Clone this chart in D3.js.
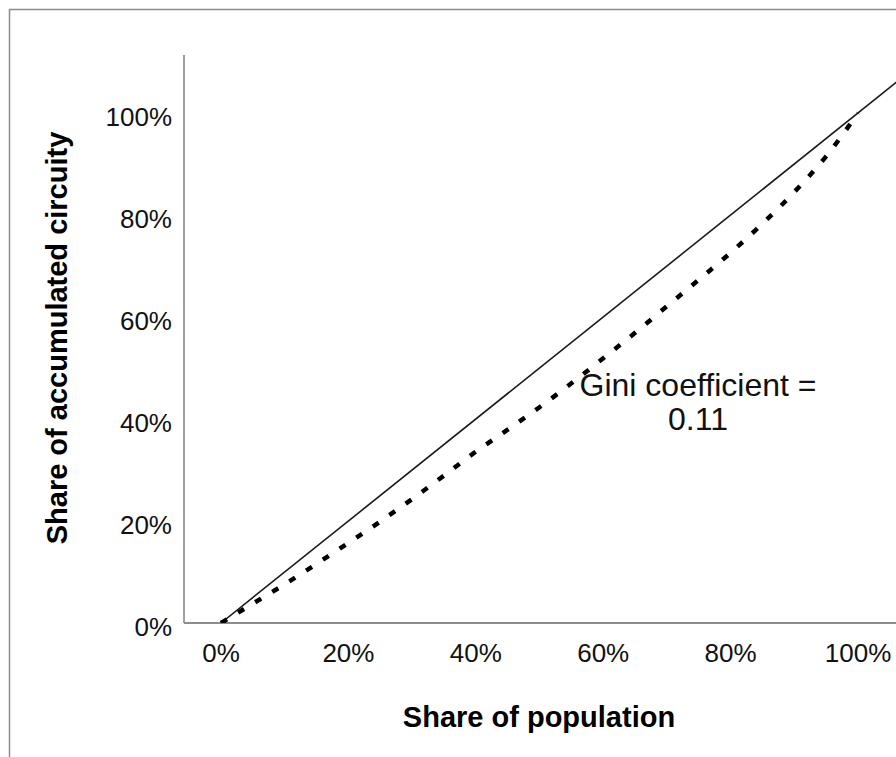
<!DOCTYPE html>
<html>
<head>
<meta charset="utf-8">
<script src="https://cdn.jsdelivr.net/npm/d3@7"></script>
<style>
  html, body { margin: 0; padding: 0; background: #fff; }
  svg { display: block; }
</style>
</head>
<body>
<svg id="chart" width="896" height="757"></svg>
<script>
// ---- data ----
const xTicks = [0, 0.2, 0.4, 0.6, 0.8, 1.0];
const yTicks = [0, 0.2, 0.4, 0.6, 0.8, 1.0];
const populationShare = [0, 0.05, 0.10, 0.15, 0.20, 0.25, 0.30, 0.35, 0.40, 0.45, 0.50,
                         0.55, 0.60, 0.65, 0.70, 0.75, 0.80, 0.85, 0.90, 0.95, 1.00];
const circuityShare   = [0, 0.038, 0.076, 0.116, 0.157, 0.199, 0.243, 0.289, 0.336, 0.379, 0.423,
                         0.470, 0.519, 0.569, 0.621, 0.673, 0.726, 0.783, 0.845, 0.915, 1.00];
const equalityX = [0, 1.12];
const equalityY = [0, 1.12];
const xTitle = "Share of population";
const yTitle = "Share of accumulated circuity";
const annotation = ["Gini coefficient =", "0.11"];

// ---- layout ----
const svg = d3.select("#chart");
const font = "'Liberation Sans', Arial, sans-serif";
const x = d3.scaleLinear().domain([0, 1]).range([221, 858]);
const y = d3.scaleLinear().domain([0, 1]).range([623, 113]);
const axisLeftX = 184;
const plotTop = 55;

// outer border
svg.append("rect")
  .attr("x", 9.5).attr("y", 9.5)
  .attr("width", 1000).attr("height", 1000)
  .attr("fill", "none").attr("stroke", "#8c8c8c").attr("stroke-width", 1.5);

// clip for plot area
svg.append("clipPath").attr("id", "plotclip")
  .append("rect").attr("x", axisLeftX).attr("y", plotTop)
  .attr("width", 896 - axisLeftX).attr("height", y(0) - plotTop);

// axes lines
svg.append("line")
  .attr("x1", axisLeftX).attr("x2", axisLeftX)
  .attr("y1", plotTop).attr("y2", y(0))
  .attr("stroke", "#808080").attr("stroke-width", 1.5);
svg.append("line")
  .attr("x1", axisLeftX).attr("x2", 896)
  .attr("y1", y(0)).attr("y2", y(0))
  .attr("stroke", "#8c8c8c").attr("stroke-width", 2);

const fmt = d3.format(".0%");

// y tick labels
svg.append("g").selectAll("text").data(yTicks).join("text")
  .attr("x", 172).attr("y", d => y(d) + 13)
  .attr("text-anchor", "end")
  .attr("font-family", font).attr("font-size", 26).attr("fill", "#111")
  .text(d => fmt(d));

// x tick labels
svg.append("g").selectAll("text").data(xTicks).join("text")
  .attr("x", d => x(d)).attr("y", 662)
  .attr("text-anchor", "middle")
  .attr("font-family", font).attr("font-size", 26).attr("fill", "#111")
  .text(d => fmt(d));

// lines
const plot = svg.append("g").attr("clip-path", "url(#plotclip)");
const line = d3.line().x(d => x(d[0])).y(d => y(d[1]));

plot.append("path")
  .datum(equalityX.map((v, i) => [v, equalityY[i]]))
  .attr("d", line)
  .attr("fill", "none").attr("stroke", "#1a1a1a").attr("stroke-width", 1.6);

plot.append("path")
  .datum(populationShare.map((v, i) => [v, circuityShare[i]]))
  .attr("d", d3.line().x(d => x(d[0])).y(d => y(d[1])).curve(d3.curveMonotoneX))
  .attr("fill", "none").attr("stroke", "#000").attr("stroke-width", 4.5)
  .attr("stroke-dasharray", "7,13");

// annotation
const ann = svg.append("text")
  .attr("text-anchor", "middle")
  .attr("font-family", font).attr("font-size", 32).attr("fill", "#111");
ann.selectAll("tspan").data(annotation).join("tspan")
  .attr("x", 698).attr("y", (d, i) => 396 + i * 34)
  .text(d => d);

// axis titles
svg.append("text")
  .attr("x", 539).attr("y", 727)
  .attr("text-anchor", "middle")
  .attr("font-family", font).attr("font-size", 29).attr("font-weight", "bold").attr("fill", "#000")
  .text(xTitle);

svg.append("text")
  .attr("transform", "translate(67,338) rotate(-90)")
  .attr("text-anchor", "middle")
  .attr("font-family", font).attr("font-size", 29).attr("font-weight", "bold").attr("fill", "#000")
  .text(yTitle);
</script>
</body>
</html>
